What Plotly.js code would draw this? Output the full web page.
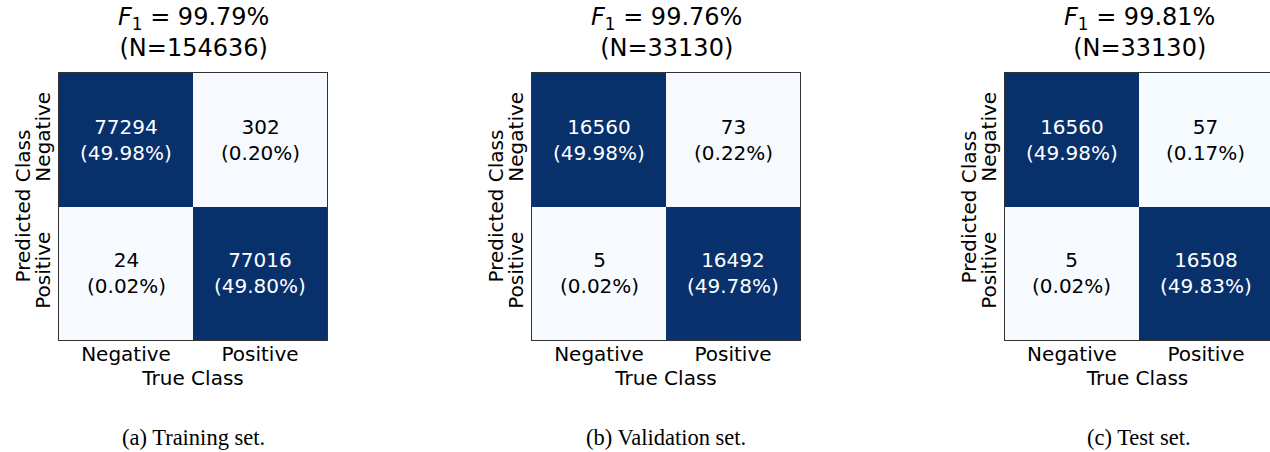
<!DOCTYPE html>
<html>
<head>
<meta charset="utf-8">
<script src="https://cdn.plot.ly/plotly-3.0.1.min.js"></script>
<style>html,body{margin:0;padding:0;background:#fff;}</style>
</head>
<body>
<div id="chart" style="width:1270px;height:452px;"></div>
<script>
// ---- data ----
const trueClasses = ["Negative", "Positive"];
const predClasses = ["Negative", "Positive"];
const panelNames = ["(a) Training set.", "(b) Validation set.", "(c) Test set."];
const f1Scores = ["99.79%", "99.76%", "99.81%"];
const sampleCounts = [154636, 33130, 33130];
// rows = predicted class, cols = true class
const trainCounts = [[77294, 302], [24, 77016]];
const validCounts = [[16560, 73], [5, 16492]];
const testCounts  = [[16560, 57], [5, 16508]];
const trainPct = [["49.98%", "0.20%"], ["0.02%", "49.80%"]];
const validPct = [["49.98%", "0.22%"], ["0.02%", "49.78%"]];
const testPct  = [["49.98%", "0.17%"], ["0.02%", "49.83%"]];

const matrices = [trainCounts, validCounts, testCounts];
const pcts = [trainPct, validPct, testPct];

const W = 1270, H = 452;
const lefts = [59, 532, 1005];
const xDom = [[59 / W, 327 / W], [532 / W, 800 / W], [1005 / W, 1]];
const yDom = [1 - 340 / H, 1 - 73 / H];
const font = "DejaVu Sans, sans-serif";
const dark = "#08306b", light = "#f7fbff";

const traces = [];
const annotations = [];
const layout = {
  width: W, height: H,
  margin: {l: 0, r: 0, t: 0, b: 0},
  paper_bgcolor: "#fff", plot_bgcolor: "#fff",
  showlegend: false,
  font: {family: font, color: "#000"},
  annotations: annotations
};

for (let p = 0; p < 3; p++) {
  const xa = p === 0 ? "x" : "x" + (p + 1);
  const ya = p === 0 ? "y" : "y" + (p + 1);
  const m = matrices[p];
  const zmax = Math.max(...m.flat());
  traces.push({
    type: "heatmap",
    x: trueClasses, y: predClasses, z: m,
    xaxis: xa, yaxis: ya,
    zmin: 0, zmax: zmax,
    colorscale: [[0, light], [0.125, "#deebf7"], [0.25, "#c6dbef"], [0.375, "#9ecae1"], [0.5, "#6baed6"], [0.625, "#4292c6"], [0.75, "#2171b5"], [0.875, "#08519c"], [1, dark]],
    showscale: false, hoverinfo: "skip", xgap: 0, ygap: 0
  });
  const axX = {
    domain: xDom[p], anchor: ya,
    type: "category", range: p === 2 ? [-0.5, 1.478] : [-0.5, 1.5],
    showline: true, mirror: true, linecolor: "#333", linewidth: 1.2,
    showgrid: false, zeroline: false, ticks: "",
    ticklabelstandoff: -4,
    tickfont: {family: font, size: 20, color: "#000"},
    title: {text: "True Class", font: {family: font, size: 20, color: "#000"}, standoff: 0}
  };
  const axY = {
    domain: yDom, anchor: xa,
    type: "category", range: [1.5, -0.5],
    showline: true, mirror: true, linecolor: "#333", linewidth: 1.2,
    showgrid: false, zeroline: false, ticks: "",
    tickangle: -90,
    tickfont: {family: font, size: 20, color: "#000"}
  };
  layout[p === 0 ? "xaxis" : "xaxis" + (p + 1)] = axX;
  layout[p === 0 ? "yaxis" : "yaxis" + (p + 1)] = axY;

  // y-axis title
  annotations.push({
    xref: "paper", yref: "paper", x: (lefts[p] - 36) / W, y: (yDom[0] + yDom[1]) / 2,
    xanchor: "center", yanchor: "middle", textangle: -90,
    text: "Predicted Class", showarrow: false,
    font: {family: font, size: 20, color: "#000"}
  });

  // cell labels
  for (let r = 0; r < 2; r++) {
    for (let c = 0; c < 2; c++) {
      const v = m[r][c];
      annotations.push({
        xref: xa, yref: ya, x: trueClasses[c], y: predClasses[r],
        text: v + "<br>(" + pcts[p][r][c] + ")",
        showarrow: false,
        font: {family: font, size: 20, color: v > zmax / 2 ? "#fff" : "#000"},
        align: "center"
      });
    }
  }
  // panel title
  const cx = (lefts[p] + 134) / W;
  annotations.push({
    xref: "paper", yref: "paper", x: cx, y: 1 - 64 / H, yanchor: "bottom", xanchor: "center",
    text: "<i>F</i><sub>1</sub> = " + f1Scores[p] + "<br>(N=" + sampleCounts[p] + ")",
    showarrow: false, align: "center",
    font: {family: font, size: 24, color: "#000"}
  });
  // caption
  annotations.push({
    xref: "paper", yref: "paper", x: cx, y: 1 - 437 / H, yanchor: "middle", xanchor: "center",
    text: panelNames[p], showarrow: false,
    font: {family: "Liberation Serif, Times New Roman, serif", size: 22.5, color: "#000"}
  });
}

Plotly.newPlot("chart", traces, layout, {displayModeBar: false, staticPlot: true});
</script>
</body>
</html>
